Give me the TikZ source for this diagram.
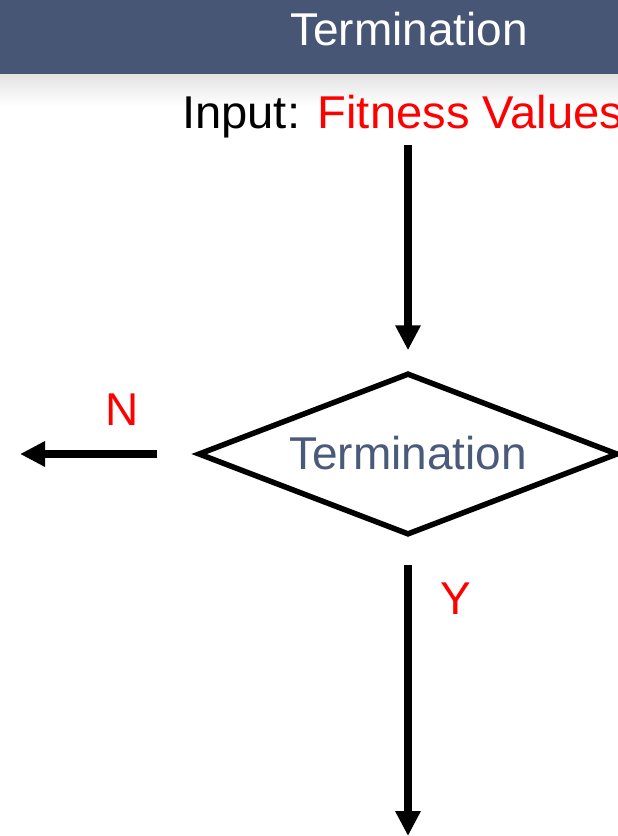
\documentclass[tikz,border=0pt]{standalone}
\usepackage{fontspec}
\setmainfont{Liberation Sans}
\usetikzlibrary{arrows.meta,shapes.geometric}
\definecolor{barblue}{HTML}{475675}
\definecolor{labelblue}{HTML}{4A5A7B}
\definecolor{hot}{HTML}{FF0000}
\tikzset{
  x=1pt, y=1pt,
  big/.style={font=\fontsize{46}{52}\selectfont, inner sep=0pt},
  flow/.style={line width=8pt, -{Triangle[length=25pt,width=24pt]}},
  decision/.style={diamond, draw=black, line width=5.5pt, inner sep=0pt,
    minimum width=420pt, minimum height=162pt},
}
\begin{document}
\begin{tikzpicture}
  \useasboundingbox (0,0) rectangle (618,-836);
  \clip (0,0) rectangle (618,-836);
  % heading bar with a soft shadow underneath
  \fill[barblue] (0,0) rectangle (618,-74);
  \shade[top color=black!11, bottom color=white] (0,-74) rectangle (618,-106);
  \node[big, text=white, anchor=base] (title) at (409,-45) {Termination};

  % input line
  \node[big, anchor=base west] (input) at (182,-128)
    {\scalebox{1.025}[1]{Input: \textcolor{hot}{Fitness Values}}};
  \coordinate (inTop) at (408,-145);

  % decision
  \node[decision] (dec) at (408,-454) {};
  \node[big, text=labelblue, anchor=base] (declabel) at (408,-469) {Termination};

  % exits
  \coordinate (nEnd) at (20,-454);
  \coordinate (nStart) at (157,-454);
  \coordinate (yStart) at (408,-565);
  \coordinate (yEnd) at (408,-836);
  \node[big, text=hot] (nlabel) at (122,-410) {N};
  \node[big, text=hot] (ylabel) at (456,-599) {Y};

  % connectors
  \draw[flow, shorten >=20pt] (inTop) -- (dec.north);
  \draw[flow] (nStart) -- (nEnd);
  \draw[flow] (yStart) -- (yEnd);
\end{tikzpicture}
\end{document}
